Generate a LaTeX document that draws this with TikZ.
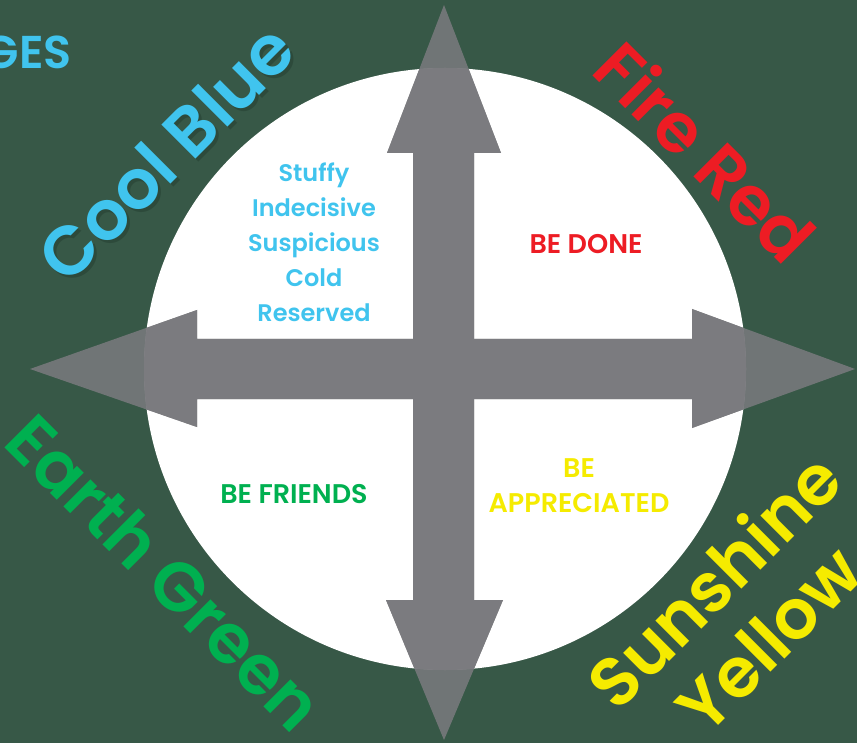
\documentclass[tikz,border=0pt]{standalone}
\usepackage{fontspec}
\setmainfont{Poppins}
\newfontfamily\popsemi{Poppins SemiBold}
\definecolor{bg}{RGB}{55,88,71}
\definecolor{arrowgray}{RGB}{123,123,127}
\definecolor{cblue}{RGB}{64,196,238}
\definecolor{fred}{RGB}{237,28,36}
\definecolor{egreen}{RGB}{0,176,80}
\definecolor{syellow}{RGB}{245,235,0}
\definecolor{shadowc}{RGB}{30,55,42}
\tikzset{
  bigword/.style={font=\fontsize{69}{70}\popsemi, inner sep=0pt},
  inword/.style={font=\fontsize{24}{35}\popsemi, align=center, inner sep=0pt},
  capword/.style={font=\fontsize{27}{35}\popsemi, align=center, inner sep=0pt},
  crossarrows/.style={fill=arrowgray}
}
\begin{document}
\begin{tikzpicture}[x=1pt,y=-1pt]
\fill[bg] (0,0) rectangle (857,743);
\useasboundingbox (0,0) rectangle (857,743);
\fill[white] (445,369) circle (301);
% arrows (slightly faded outside the circle)
\def\vertarrow{(444,5) -- (501,153) -- (474,153) -- (474,600) -- (503,600) -- (444,740) -- (386,600) -- (413,600) -- (413,153) -- (387,153) -- cycle}
\def\horarrow{(30,369) -- (197,310) -- (197,339) -- (692,339) -- (692,309) -- (855,369) -- (692,428) -- (692,399) -- (197,399) -- (197,427) -- cycle}
\fill[crossarrows, opacity=0.85] \vertarrow;
\fill[crossarrows, opacity=0.85] \horarrow;
\begin{scope}
\clip (445,369) circle (301);
\fill[crossarrows] \vertarrow;
\fill[crossarrows] \horarrow;
\end{scope}
% corner words
\node[text=cblue, font=\fontsize{46}{48}\popsemi, inner sep=0pt, anchor=east] (ges) at (72,52) {GES};
\node[bigword, text=shadowc, opacity=0.4, rotate=45] (coolshadow) at (169,156) {Cool Blue};
\node[bigword, text=cblue, rotate=45] (cool) at (166,153) {Cool Blue};
\node[bigword, text=fred, rotate=-45] (fire) at (706,151) {Fire Red};
\node[bigword, text=egreen, rotate=-45] (earth) at (165,572) {Earth Green};
\node[bigword, text=syellow, rotate=45] (sun) at (713,580) {Sunshine};
\node[bigword, text=syellow, rotate=45] (yellow) at (769,639) {Yellow};
% quadrant texts
\node[inword, text=cblue] (traits) at (314,242) {Stuffy\\Indecisive\\Suspicious\\Cold\\Reserved};
\node[capword, text=fred] (done) at (586,244) {BE DONE};
\node[capword, text=egreen] (friends) at (294,494) {BE FRIENDS};
\node[capword, text=syellow] (appr) at (579,486) {BE\\APPRECIATED};
\end{tikzpicture}
\end{document}
